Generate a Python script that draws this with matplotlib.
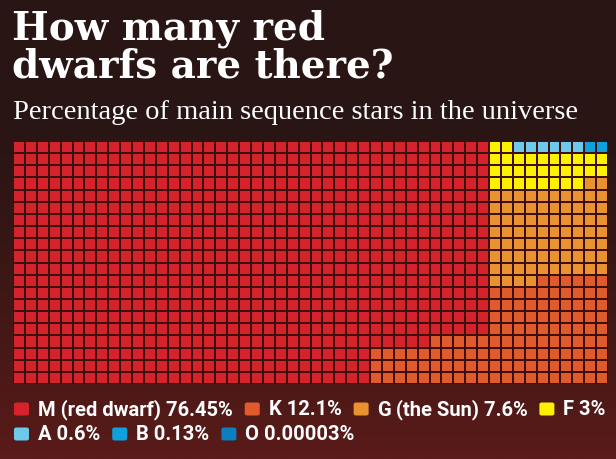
import numpy as np
import matplotlib
matplotlib.use("Agg")
import matplotlib.pyplot as plt
from matplotlib.colors import ListedColormap
from matplotlib.patches import FancyBboxPatch

# star classes, as in the legend
classes = ["M (red dwarf)", "K", "G\u2009(the Sun)", "F", "A", "B", "O"]
pct_labels = ["76.45%", "12.1%", "7.6%", "3%", "0.6%", "0.13%", "0.00003%"]
# squares per class in the 50 x 20 waffle (1 square = 0.1%)
cells = [765, 121, 76, 30, 6, 2, 0]
colors = ["#d6222a", "#e05a2c", "#ea922f", "#fdf000", "#6dc8ea", "#0ea1de", "#0b7fc0"]

n_cols, n_rows = 50, 20
W, H = 616, 460

# --- fill order: smallest classes first, starting top right ---
order = []
# right block (cols 40-49), snake from the top, first row right to left
for r in range(n_rows):
    cs = range(49, 39, -1) if r % 2 == 0 else range(40, 50)
    order += [(r, c) for c in cs]
# next block (cols 30-39) from the bottom, each row right to left
for r in range(n_rows - 1, -1, -1):
    order += [(r, c) for c in range(39, 29, -1)]
# everything else
for r in range(n_rows):
    order += [(r, c) for c in range(0, 30)]

grid = np.zeros((n_rows, n_cols), dtype=int)
k = 0
for idx in range(len(classes) - 1, -1, -1):
    for _ in range(cells[idx]):
        grid[order[k]] = idx
        k += 1

fig = plt.figure(figsize=(W / 100, H / 100), dpi=100)

# dark background, going reddish toward the bottom
bg = fig.add_axes([0, 0, 1, 1], zorder=-10)
t = np.linspace(0, 1, 200)[:, None]
top = np.array([0x29, 0x15, 0x14]) / 255
bot = np.array([0x5a, 0x1b, 0x19]) / 255
mix = np.clip((t - 0.25) / 0.75, 0, 1) ** 1.3
img = top[None, None, :] * (1 - mix[..., None]) + bot[None, None, :] * mix[..., None]
img = np.repeat(img, 4, axis=1)
bg.imshow(img, aspect="auto", extent=[0, 1, 0, 1], origin="upper")
bg.axis("off")

# waffle
ax = fig.add_axes([13 / W, (H - 385) / H, 595 / W, 243 / H])
ax.pcolormesh(grid, cmap=ListedColormap(colors), vmin=-0.5, vmax=len(colors) - 0.5,
              edgecolors="#3d1010", linewidth=1.4)
ax.set_xlim(0, n_cols)
ax.set_ylim(n_rows, 0)
ax.axis("off")

# titles
fig.text(12 / W, 1 - 40 / H, "How many red", color="white", fontsize=28,
         fontweight="heavy", family="DejaVu Serif", va="baseline")
fig.text(12 / W, 1 - 77 / H, "dwarfs are there?", color="white", fontsize=28,
         fontweight="heavy", family="DejaVu Serif", va="baseline")
fig.text(13 / W, 1 - 119 / H, "Percentage of main sequence stars in the universe",
         color="white", fontsize=20.5, family=["Liberation Serif", "DejaVu Serif"],
         va="baseline")

# legend, laid out as flowing text
fig.canvas.draw()
rend = fig.canvas.get_renderer()
rows_y = [410, 435]
breaks = [0, 4, 7]
for line in range(2):
    x = 14
    y = rows_y[line]
    for i in range(breaks[line], breaks[line + 1]):
        sq = FancyBboxPatch((x / W, 1 - (y + 6.5) / H), 15 / W, 13 / H,
                            boxstyle="round,pad=0,rounding_size=0.004",
                            transform=fig.transFigure, facecolor=colors[i],
                            edgecolor="none")
        fig.patches.append(sq)
        txt = fig.text((x + 24) / W, 1 - y / H, classes[i] + " " + pct_labels[i],
                       color="white", fontsize=14.5, fontweight="bold",
                       family=["Roboto", "DejaVu Sans"], va="center")
        bb = txt.get_window_extent(rend)
        x = x + 24 + bb.width + 12

fig.savefig("out.png", dpi=100)
